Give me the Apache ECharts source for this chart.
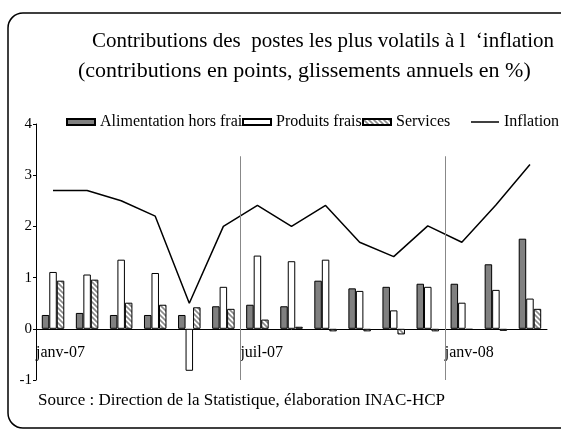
<!DOCTYPE html>
<html>
<head>
<meta charset="utf-8">
<script src="https://cdn.jsdelivr.net/npm/echarts@6/dist/echarts.min.js"></script>
<style>
  html, body { margin: 0; padding: 0; background: #fff; }
  #chart { width: 561px; height: 430px; }
</style>
</head>
<body>
<div id="chart"></div>
<script>
// données
const months = ['janv-07', 'févr-07', 'mars-07', 'avr-07', 'mai-07', 'juin-07', 'juil-07', 'août-07',
                'sept-07', 'oct-07', 'nov-07', 'déc-07', 'janv-08', 'févr-08', 'mars-08'];
const alimentation = [0.27, 0.31, 0.27, 0.27, 0.27, 0.44, 0.47, 0.44, 0.94, 0.79, 0.82, 0.88, 0.88, 1.26, 1.76];
const produitsFrais = [1.11, 1.06, 1.35, 1.09, -0.82, 0.82, 1.43, 1.32, 1.35, 0.74, 0.36, 0.82, 0.51, 0.76, 0.59];
const services = [0.94, 0.96, 0.51, 0.47, 0.42, 0.39, 0.18, 0.04, -0.05, -0.05, -0.11, -0.05, -0.02, -0.04, 0.39];
const inflation = [2.7, 2.7, 2.5, 2.2, 0.5, 2.0, 2.41, 2.0, 2.41, 1.69, 1.41, 2.01, 1.69, 2.42, 3.21];
const xTickLabels = ['janv-07', 'juil-07', 'janv-08'];
// séparateurs de semestre (en mois depuis janv-07) et leur hauteur
const periodBreaks = [6, 12];
const breakTop = 3.37;

const FONT = 'Liberation Serif';

// motif hachuré pour "Services"
function hatch() {
    const c = document.createElement('canvas');
    c.width = 5; c.height = 5;
    const ctx = c.getContext('2d');
    ctx.fillStyle = '#fff';
    ctx.fillRect(0, 0, 5, 5);
    ctx.strokeStyle = '#8a8a8a';
    ctx.lineWidth = 1.6;
    ctx.beginPath();
    ctx.moveTo(-1, -1); ctx.lineTo(6, 6);
    ctx.moveTo(-1, 4); ctx.lineTo(1, 6);
    ctx.moveTo(4, -1); ctx.lineTo(6, 1);
    ctx.stroke();
    return c;
}

const chart = echarts.init(document.getElementById('chart'));

const legendText = { fontFamily: FONT, fontSize: 16, color: '#000' };
function legendAt(name, left, h) {
    return { data: [name], left: left, top: 122 - 8, itemWidth: 28, itemHeight: h,
             icon: 'rect', textStyle: legendText, padding: 0 };
}

chart.setOption({
    animation: false,
    title: [
        { text: 'Contributions des  postes les plus volatils à l  \u2018inflation', left: 87, top: 26,
          textStyle: { fontFamily: FONT, fontSize: 21, fontWeight: 'normal', color: '#000' } },
        { text: '(contributions en points, glissements annuels en %)', left: 73, top: 55,
          textStyle: { fontFamily: FONT, fontSize: 22, fontWeight: 'normal', color: '#000' } }
    ],
    graphic: [
        { type: 'rect', shape: { x: 8, y: 13, width: 580, height: 415, r: 15 },
          style: { fill: 'none', stroke: '#000', lineWidth: 1.5 }, silent: true },
        { type: 'text', left: 38, top: 392,
          style: { text: 'Source : Direction de la Statistique, élaboration INAC-HCP',
                   font: '17px "Liberation Serif"', fill: '#000' } }
    ],
    legend: [
        legendAt('Alimentation hors frais', 66, 6),
        legendAt('Produits frais', 242, 6),
        legendAt('Services', 362, 6),
        legendAt('Inflation', 471, 1.5)
    ],
    grid: { left: 36, top: 124, width: 511, height: 256 },
    xAxis: [
        { type: 'category', data: months, axisLine: { onZero: true, lineStyle: { color: '#000', width: 1 } },
          axisTick: { show: false }, axisLabel: { show: false } },
        { type: 'value', min: 0, max: 15, interval: 6, position: 'bottom', offset: -51,
          axisLine: { show: false, onZero: false },
          axisTick: { show: false }, splitLine: { show: false },
          axisLabel: { align: 'left', margin: 16, showMaxLabel: false,
                       fontFamily: FONT, fontSize: 16, color: '#000',
                       formatter: v => xTickLabels[v / 6] || '' } }
    ],
    yAxis: {
        type: 'value', min: -1, max: 4, interval: 1,
        axisLine: { show: true, lineStyle: { color: '#000', width: 1 } },
        axisTick: { show: true, length: 3, lineStyle: { color: '#000' } },
        splitLine: { show: false },
        axisLabel: { margin: 4, fontFamily: FONT, fontSize: 15, color: '#000' }
    },
    series: [
        { name: 'Alimentation hors frais', type: 'bar', data: alimentation, barWidth: 7.5, barGap: '0%',
          itemStyle: { color: '#808080', borderColor: '#000', borderWidth: 1 } },
        { name: 'Produits frais', type: 'bar', data: produitsFrais, barWidth: 7.5, barGap: '0%',
          itemStyle: { color: '#fff', borderColor: '#000', borderWidth: 1 } },
        { name: 'Services', type: 'bar', data: services, barWidth: 7.5, barGap: '0%',
          itemStyle: { color: { image: hatch(), repeat: 'repeat' }, borderColor: '#000', borderWidth: 1 } },
        { name: 'Inflation', type: 'line', data: inflation, symbol: 'none',
          lineStyle: { color: '#000', width: 1.5 }, itemStyle: { color: '#000' } },
        { name: 'semestres', type: 'line', xAxisIndex: 1, data: [], silent: true,
          markLine: { symbol: 'none', silent: true, label: { show: false },
                      lineStyle: { color: '#888', type: 'solid', width: 1 },
                      data: periodBreaks.map(m => [{ coord: [m, -1] }, { coord: [m, breakTop] }]) } }
    ]
});
</script>
</body>
</html>
